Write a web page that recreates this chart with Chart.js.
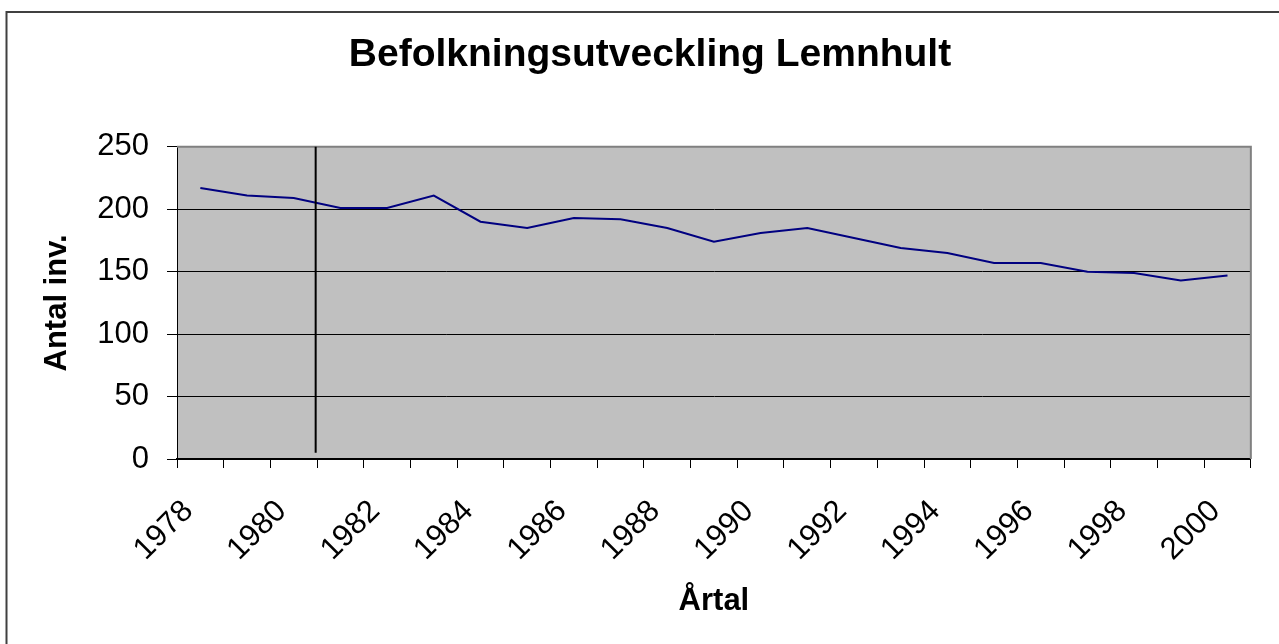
<!DOCTYPE html>
<html lang="sv">
<head>
  <meta charset="UTF-8" />
  <title>Befolkningsutveckling Lemnhult</title>
  <script src="https://cdn.jsdelivr.net/npm/chart.js"></script>
  <style>
    body {
      margin: 0;
      background: #fff;
      font-family: 'Liberation Sans', Arial, sans-serif;
    }
    #chart-container {
      width: 1279px;
      height: 644px;
      position: relative;
    }
  </style>
</head>
<body>
  <div id="chart-container">
    <canvas id="popChart"></canvas>
  </div>

  <script>
    const years = ['1978', '1979', '1980', '1981', '1982', '1983', '1984', '1985', '1986', '1987', '1988', '1989',
                   '1990', '1991', '1992', '1993', '1994', '1995', '1996', '1997', '1998', '1999', '2000'];
    const inhabitants = [217, 211, 209, 201, 201, 211, 190, 185, 193, 192, 185, 174,
                         181, 185, 177, 169, 165, 157, 157, 150, 149, 143, 147];
    const yTicks = [0, 50, 100, 150, 200, 250];
    // the hand drawn vertical marker line, in axis units
    const markerAt = 2.47;
    const markerFrom = 250;
    const markerTo = 5;

    const font = "'Liberation Sans', Arial, sans-serif";

    // frame, grey plot area, border and marker line
    const excelLook = {
      id: 'excelLook',
      beforeDraw(chart) {
        const { ctx, chartArea: a } = chart;
        ctx.save();
        ctx.strokeStyle = '#404040';
        ctx.lineWidth = 2;
        ctx.strokeRect(6.5, 12, 1400, 800);
        ctx.fillStyle = '#c0c0c0';
        ctx.fillRect(a.left, a.top, a.right - a.left, a.bottom - a.top);
        ctx.restore();
      },
      afterDatasetsDraw(chart) {
        const { ctx, chartArea: a, scales } = chart;
        ctx.save();
        ctx.strokeStyle = '#808080';
        ctx.lineWidth = 2;
        ctx.beginPath();
        ctx.moveTo(a.left, a.top);
        ctx.lineTo(a.right, a.top);
        ctx.lineTo(a.right, a.bottom);
        ctx.stroke();

        const x = scales.x.getPixelForValue(markerAt);
        ctx.strokeStyle = '#000';
        ctx.lineWidth = 2;
        ctx.beginPath();
        ctx.moveTo(x, scales.y.getPixelForValue(markerFrom));
        ctx.lineTo(x, scales.y.getPixelForValue(markerTo));
        ctx.stroke();
        ctx.restore();
      }
    };

    const ctx = document.getElementById('popChart').getContext('2d');
    new Chart(ctx, {
      type: 'line',
      data: {
        labels: years,
        datasets: [{
          label: 'Antal inv.',
          data: inhabitants,
          borderColor: '#000080',
          borderWidth: 2,
          pointRadius: 0,
          tension: 0,
          fill: false
        }]
      },
      options: {
        responsive: true,
        maintainAspectRatio: false,
        animation: false,
        layout: { padding: { left: 30, right: 9, top: 0, bottom: 0 } },
        plugins: {
          legend: { display: false },
          tooltip: { enabled: false },
          title: {
            display: true,
            text: 'Befolkningsutveckling Lemnhult',
            color: '#000',
            font: { family: font, size: 39, weight: 'bold', lineHeight: 1.2 },
            padding: { top: 32, bottom: 68 }
          }
        },
        scales: {
          x: {
            offset: true,
            afterFit(scale) { scale.height = 185; },
            grid: {
              offset: true,
              drawOnChartArea: false,
              color: '#000',
              tickLength: 9
            },
            border: { color: '#000', width: 2 },
            ticks: {
              autoSkip: false,
              minRotation: 45,
              maxRotation: 45,
              padding: 25,
              labelOffset: -12,
              color: '#000',
              font: { family: font, size: 31 },
              callback: (v, i) => (i % 2 === 0 ? years[i] : '')
            },
            title: {
              display: true,
              text: 'Årtal',
              color: '#000',
              font: { family: font, size: 31, weight: 'bold', lineHeight: 1.2 },
              padding: { top: 0, bottom: 24 }
            }
          },
          y: {
            min: 0,
            max: 250,
            afterFit(scale) { scale.width = 147; },
            afterBuildTicks(scale) { scale.ticks = yTicks.map(v => ({ value: v })); },
            grid: {
              color: c => (c.tick && c.tick.value === 250 ? '#808080' : '#000'),
              tickColor: '#000',
              tickLength: 10,
              lineWidth: 1
            },
            border: { color: '#000', width: 1 },
            ticks: {
              padding: 18,
              color: '#000',
              font: { family: font, size: 31 }
            },
            title: {
              display: true,
              text: 'Antal inv.',
              color: '#000',
              font: { family: font, size: 31, weight: 'bold', lineHeight: 1.2 },
              padding: { top: 9, bottom: 0 }
            }
          }
        }
      },
      plugins: [excelLook]
    });
  </script>
</body>
</html>
